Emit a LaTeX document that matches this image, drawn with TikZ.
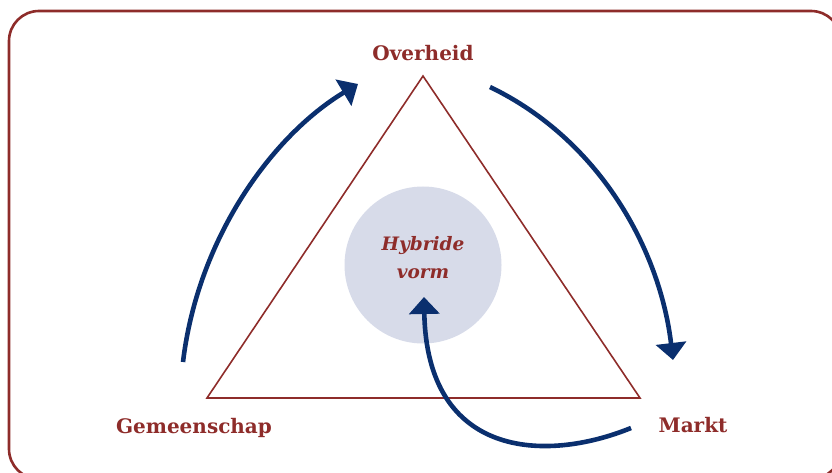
\documentclass[tikz,border=0pt]{standalone}
\usepackage{fontspec}
\setmainfont{DejaVu Serif}
\usetikzlibrary{arrows.meta}
\definecolor{framered}{HTML}{8E2C2A}
\definecolor{flowblue}{HTML}{0A2F6E}
\definecolor{hybridfill}{HTML}{D7DBE9}
\tikzset{
  frame/.style={draw=framered, line width=2.6pt, rounded corners=30pt},
  triangleline/.style={draw=framered, line width=1.6pt, line join=miter},
  label/.style={text=framered, font=\bfseries\fontsize{20}{24}\selectfont, anchor=base, inner sep=0pt},
  hybrid/.style={circle, fill=hybridfill, minimum size=157pt, inner sep=0pt},
  hybridtext/.style={text=framered, font=\bfseries\itshape\fontsize{18.5}{22}\selectfont, anchor=base, inner sep=0pt},
  flow/.style={draw=flowblue, line width=4.6pt, -{Triangle[length=17pt, width=30pt]}}
}
\begin{document}
\begin{tikzpicture}[x=1pt, y=-1pt]
  \useasboundingbox (0,0) rectangle (832,473);
  % outer frame, running past the right and bottom edges
  \draw[frame] (9,11) rectangle (841,479);

  % central hybrid form
  \node[hybrid] (hyb) at (423,265) {};
  \node[hybridtext] (hyb1) at (423,250) {Hybride};
  \node[hybridtext] (hyb2) at (423,278) {vorm};

  % triangle of the three sectors
  \coordinate (top) at (423,76);
  \coordinate (bl) at (207,398);
  \coordinate (br) at (640,398);
  \draw[triangleline] (top) -- (bl) -- (br) -- cycle;

  % sector labels
  \node[label] (gov) at (423,61) {Overheid};
  \node[label] (com) at (194,433) {Gemeenschap};
  \node[label] (mkt) at (693,432) {Markt};

  % arrow end points
  \coordinate (comStart) at (183,362);
  \coordinate (govEnd) at (358,84);
  \coordinate (govStart) at (490,87);
  \coordinate (mktEnd) at (673,360);
  \coordinate (mktStart) at (631,428);
  \coordinate (hybEnd) at (424,297);

  % circulation between the sectors
  \draw[flow] (comStart) .. controls (198,237) and (273,135) .. (govEnd);
  \draw[flow] (govStart) .. controls (600,140) and (660,250) .. (mktEnd);
  \draw[flow] (mktStart) .. controls (545,463) and (427,458) .. (hybEnd);
\end{tikzpicture}
\end{document}
